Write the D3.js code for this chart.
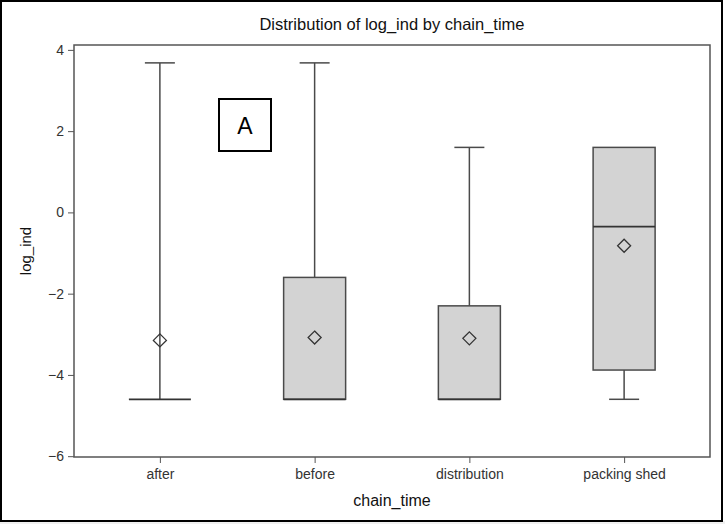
<!DOCTYPE html>
<html>
<head>
<meta charset="utf-8">
<script src="https://d3js.org/d3.v7.min.js"></script>
<style>
  body { margin: 0; background: #fff; }
  svg { display: block; font-family: "Liberation Sans", Arial, sans-serif; }
</style>
</head>
<body>
<svg id="chart" width="725" height="524"></svg>
<script>
// box plot statistics
const categories = ["after", "before", "distribution", "packing shed"];
const minVals    = [-4.6, -4.6, -4.6, -4.6];
const q1Vals     = [-4.6, -4.6, -4.6, -3.88];
const medianVals = [-4.6, -4.6, -4.6, -0.35];
const q3Vals     = [-4.6, -1.6, -2.3, 1.6];
const maxVals    = [3.68, 3.68, 1.6, 1.6];
const meanVals   = [-3.15, -3.08, -3.1, -0.82];
const yTicks     = [4, 2, 0, -2, -4, -6];

const svg = d3.select("#chart");
const plotL = 74, plotR = 710, plotT = 45, plotB = 457;

// outer frame and bottom strip
svg.append("rect").attr("x", 0).attr("y", 521).attr("width", 725).attr("height", 3).attr("fill", "#f0f0f0");
svg.append("rect").attr("x", 1).attr("y", 1).attr("width", 721).attr("height", 520)
  .attr("fill", "none").attr("stroke", "#000").attr("stroke-width", 2);

const x = d3.scalePoint().domain(categories).range([plotL, plotR]).padding(0.555);
const y = d3.scaleLinear().domain([-6.02, 4.12]).range([plotB, plotT]);

const boxW = 62, capW = 30;
const stroke = "#4a4a4a";

const data = categories.map((c, i) => ({
  c, min: minVals[i], q1: q1Vals[i], med: medianVals[i], q3: q3Vals[i], max: maxVals[i], mean: meanVals[i]
}));

const g = svg.append("g");
data.forEach(d => {
  const cx = x(d.c);
  // upper whisker
  if (d.max > d.q3) {
    g.append("line").attr("x1", cx).attr("x2", cx).attr("y1", y(d.q3)).attr("y2", y(d.max))
      .attr("stroke", stroke).attr("stroke-width", 1.5);
    g.append("line").attr("x1", cx - capW / 2).attr("x2", cx + capW / 2).attr("y1", y(d.max)).attr("y2", y(d.max))
      .attr("stroke", stroke).attr("stroke-width", 1.5);
  }
  // lower whisker
  if (d.min < d.q1) {
    g.append("line").attr("x1", cx).attr("x2", cx).attr("y1", y(d.q1)).attr("y2", y(d.min))
      .attr("stroke", stroke).attr("stroke-width", 1.5);
    g.append("line").attr("x1", cx - capW / 2).attr("x2", cx + capW / 2).attr("y1", y(d.min)).attr("y2", y(d.min))
      .attr("stroke", stroke).attr("stroke-width", 1.5);
  }
  // box
  if (d.q3 > d.q1) {
    g.append("rect").attr("x", cx - boxW / 2).attr("y", y(d.q3)).attr("width", boxW).attr("height", y(d.q1) - y(d.q3))
      .attr("fill", "#d3d3d3").attr("stroke", stroke).attr("stroke-width", 1.5);
  }
  // median
  g.append("line").attr("x1", cx - boxW / 2).attr("x2", cx + boxW / 2).attr("y1", y(d.med)).attr("y2", y(d.med))
    .attr("stroke", "#333").attr("stroke-width", 1.8);
  // mean diamond
  const my = y(d.mean), r = 6.5;
  g.append("path").attr("d", `M${cx},${my - r}L${cx + r},${my}L${cx},${my + r}L${cx - r},${my}Z`)
    .attr("fill", "none").attr("stroke", "#333").attr("stroke-width", 1.3);
});

// plot frame
svg.append("rect").attr("x", plotL).attr("y", plotT).attr("width", plotR - plotL).attr("height", plotB - plotT)
  .attr("fill", "none").attr("stroke", "#555").attr("stroke-width", 1.5);

// axes
const yAxis = svg.append("g").attr("transform", `translate(${plotL},0)`)
  .call(d3.axisLeft(y).tickValues(yTicks).tickSize(6).tickPadding(4));
const xAxis = svg.append("g").attr("transform", `translate(0,${plotB})`)
  .call(d3.axisBottom(x).tickSize(6).tickPadding(6));
[yAxis, xAxis].forEach(a => {
  a.select(".domain").remove();
  a.selectAll("line").attr("stroke", "#555");
  a.selectAll("text").attr("fill", "#333").style("font-size", "14px")
    .style("font-family", "'Liberation Sans', Arial, sans-serif");
});

// titles
svg.append("text").attr("x", (plotL + plotR) / 2).attr("y", 30).attr("text-anchor", "middle")
  .attr("fill", "#111").style("font-size", "16.5px").text("Distribution of log_ind by chain_time");
svg.append("text").attr("x", (plotL + plotR) / 2).attr("y", 506).attr("text-anchor", "middle")
  .attr("fill", "#111").style("font-size", "16px").text("chain_time");
svg.append("text").attr("transform", `translate(31,${(plotT + plotB) / 2}) rotate(-90)`).attr("text-anchor", "middle")
  .attr("fill", "#111").style("font-size", "15px").text("log_ind");

// panel label
svg.append("rect").attr("x", 219).attr("y", 99).attr("width", 52).attr("height", 52)
  .attr("fill", "#fff").attr("stroke", "#000").attr("stroke-width", 2);
svg.append("text").attr("x", 245).attr("y", 134).attr("text-anchor", "middle")
  .attr("fill", "#000").style("font-size", "23px").text("A");
</script>
</body>
</html>
